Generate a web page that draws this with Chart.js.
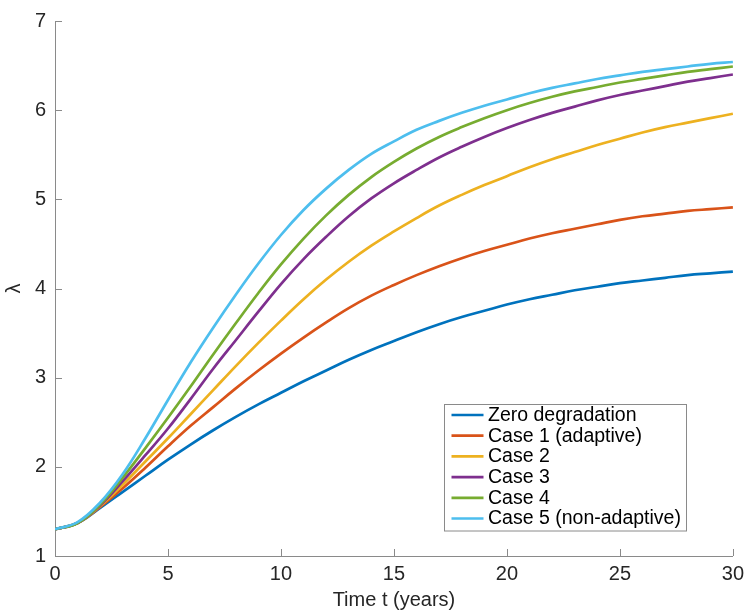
<!DOCTYPE html>
<html>
<head>
<meta charset="utf-8">
<script src="https://cdn.jsdelivr.net/npm/chart.js@4/dist/chart.umd.min.js"></script>
<style>
  html, body { margin: 0; padding: 0; background: #fff; }
  #wrap { width: 750px; height: 612px; position: relative; }
</style>
</head>
<body>
<div id="wrap"><canvas id="c" width="750" height="612"></canvas></div>
<script>
const years = [0,1,2,3,4,5,6,7,8,9,10,11,12,13,14,15,16,17,18,19,20,21,22,23,24,25,26,27,28,29,30];
const zeroDegradation = [1.30,1.37,1.54,1.72,1.90,2.08,2.25,2.41,2.56,2.70,2.83,2.96,3.08,3.20,3.31,3.41,3.51,3.60,3.68,3.75,3.82,3.88,3.93,3.98,4.02,4.06,4.09,4.12,4.15,4.17,4.19];
const case1 = [1.30,1.37,1.55,1.76,1.99,2.23,2.46,2.67,2.88,3.08,3.27,3.45,3.62,3.78,3.92,4.04,4.15,4.25,4.34,4.42,4.49,4.56,4.62,4.67,4.72,4.77,4.81,4.84,4.87,4.89,4.91];
const case2 = [1.30,1.37,1.56,1.80,2.06,2.32,2.59,2.86,3.13,3.39,3.64,3.88,4.10,4.30,4.48,4.64,4.79,4.93,5.05,5.16,5.26,5.36,5.45,5.53,5.61,5.68,5.75,5.81,5.86,5.91,5.96];
const case3 = [1.30,1.37,1.57,1.84,2.13,2.43,2.76,3.10,3.42,3.74,4.05,4.33,4.58,4.81,5.01,5.18,5.33,5.47,5.59,5.70,5.80,5.89,5.97,6.04,6.11,6.17,6.22,6.27,6.32,6.36,6.40];
const case4 = [1.30,1.37,1.58,1.88,2.21,2.55,2.90,3.26,3.61,3.95,4.27,4.56,4.82,5.05,5.25,5.42,5.57,5.70,5.81,5.91,6.00,6.08,6.15,6.21,6.26,6.31,6.35,6.39,6.43,6.46,6.49];
const case5 = [1.30,1.38,1.60,1.92,2.32,2.75,3.17,3.56,3.93,4.28,4.60,4.88,5.12,5.33,5.51,5.65,5.78,5.88,5.97,6.05,6.12,6.19,6.25,6.30,6.35,6.39,6.43,6.46,6.49,6.52,6.54];
const seriesLabels = ['Zero degradation','Case 1 (adaptive)','Case 2','Case 3','Case 4','Case 5 (non-adaptive)'];
const seriesColors = ['#0072BD','#D95319','#EDB120','#7E2F8E','#77AC30','#4DBEEE'];
const xTicks = [0,5,10,15,20,25,30];
const yTicks = [1,2,3,4,5,6,7];
const xTitle = 'Time t (years)';
const yTitle = 'λ';

const allSeries = [zeroDegradation, case1, case2, case3, case4, case5];
const FONT = '"Liberation Sans", Arial, Helvetica, sans-serif';
const AXIS_COLOR = '#8a8a8a';
const TEXT_COLOR = '#262626';

const datasets = allSeries.map((s, i) => ({
  label: seriesLabels[i],
  data: years.map((x, j) => ({x: x, y: s[j]})),
  borderColor: seriesColors[i],
  backgroundColor: seriesColors[i],
  borderWidth: 2.7,
  pointRadius: 0,
  fill: false,
  tension: 0.4,
  order: allSeries.length - i
}));

const inwardTicks = {
  id: 'inwardTicks',
  afterDraw(chart) {
    const ctx = chart.ctx;
    const xs = chart.scales.x, ys = chart.scales.y;
    const a = chart.chartArea;
    ctx.save();
    ctx.strokeStyle = AXIS_COLOR;
    ctx.lineWidth = 1;
    ctx.beginPath();
    xTicks.forEach(v => {
      const px = Math.round(xs.getPixelForValue(v)) + 0.5;
      ctx.moveTo(px, a.bottom);
      ctx.lineTo(px, a.bottom - 7);
    });
    yTicks.forEach(v => {
      const py = Math.round(ys.getPixelForValue(v)) + 0.5;
      ctx.moveTo(a.left, py);
      ctx.lineTo(a.left + 7, py);
    });
    ctx.stroke();

    // legend box
    const lx = 444.5, ly = 404.5, lw = 242, lh = 126.5;
    ctx.fillStyle = '#fff';
    ctx.fillRect(lx, ly, lw, lh);
    ctx.strokeStyle = '#8a8a8a';
    ctx.lineWidth = 1;
    ctx.strokeRect(lx, ly, lw, lh);
    ctx.font = '19.5px ' + FONT;
    ctx.textBaseline = 'middle';
    ctx.textAlign = 'left';
    const rowH = 20.7;
    seriesLabels.forEach((lab, i) => {
      const cy = ly + 10.5 + i * rowH;
      ctx.strokeStyle = seriesColors[i];
      ctx.lineWidth = 2.7;
      ctx.beginPath();
      ctx.moveTo(lx + 7, cy);
      ctx.lineTo(lx + 39, cy);
      ctx.stroke();
      ctx.fillStyle = '#000';
      ctx.fillText(lab, lx + 43.5, cy + 0.5);
    });

    // y-axis title
    ctx.save();
    ctx.translate(14, ys.getPixelForValue(4));
    ctx.rotate(-Math.PI / 2);
    ctx.textAlign = 'center';
    ctx.textBaseline = 'middle';
    ctx.fillStyle = TEXT_COLOR;
    ctx.font = '20px ' + FONT;
    ctx.fillText(yTitle, 0, 0);
    ctx.restore();
    ctx.restore();
  }
};

new Chart(document.getElementById('c'), {
  type: 'line',
  data: { datasets },
  options: {
    responsive: false,
    animation: false,
    devicePixelRatio: 1,
    layout: { padding: { left: 0, right: 15, top: 21, bottom: 0 } },
    plugins: { legend: { display: false }, tooltip: { enabled: false } },
    scales: {
      x: {
        type: 'linear', min: 0, max: 30,
        afterBuildTicks(scale) { scale.ticks = xTicks.map(v => ({value: v})); },
        afterFit(scale) { scale.height = 56; },
        grid: { display: true, drawOnChartArea: false, drawTicks: false },
        border: { display: true, color: AXIS_COLOR, width: 1 },
        ticks: { padding: 6, color: TEXT_COLOR, font: { family: FONT, size: 20 }, maxRotation: 0 },
        title: { display: true, text: xTitle, color: TEXT_COLOR, font: { family: FONT, size: 20 }, padding: { top: 0, bottom: 0 } }
      },
      y: {
        type: 'linear', min: 1, max: 7,
        afterBuildTicks(scale) { scale.ticks = yTicks.map(v => ({value: v})); },
        afterFit(scale) { scale.width = 55; },
        grid: { display: true, drawOnChartArea: false, drawTicks: false },
        border: { display: true, color: AXIS_COLOR, width: 1 },
        ticks: { padding: 9, color: TEXT_COLOR, font: { family: FONT, size: 20 } }
      }
    }
  },
  plugins: [inwardTicks]
});
</script>
</body>
</html>
